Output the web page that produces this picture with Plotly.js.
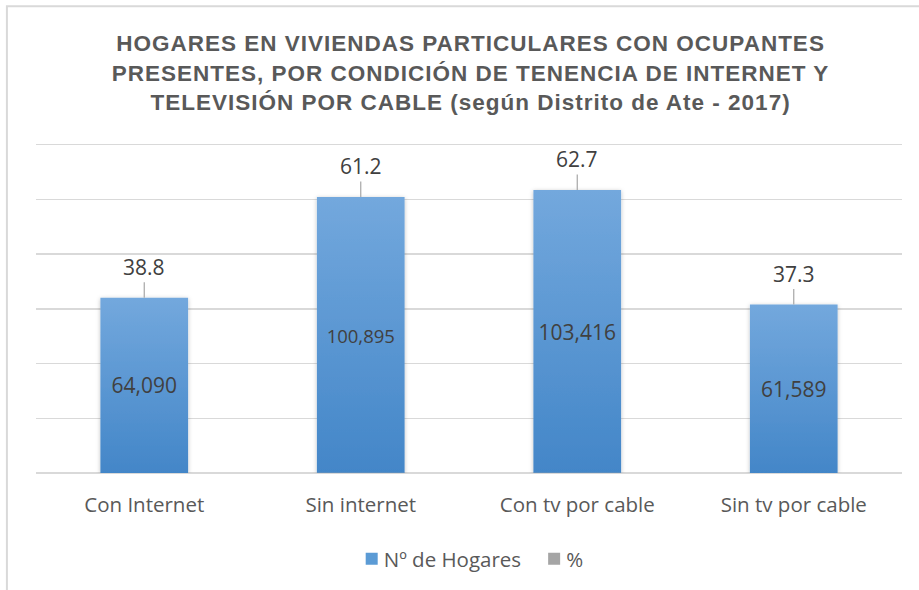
<!DOCTYPE html>
<html>
<head>
<meta charset="utf-8">
<script src="https://cdn.plot.ly/plotly-3.0.1.min.js"></script>
<style>
  html, body { margin: 0; padding: 0; background: #ffffff; }
  #chart { width: 919px; height: 590px; }
  #chart .gtitle { letter-spacing: 1px; }
</style>
</head>
<body>
<div id="chart"></div>
<script>
const categories = ["Con Internet", "Sin internet", "Con tv por cable", "Sin tv por cable"];
const hogares = [64090, 100895, 103416, 61589];
const hogaresLabels = ["64,090", "100,895", "103,416", "61,589"];
const pct = [38.8, 61.2, 62.7, 37.3];
const seriesNames = ["Nº de Hogares", "%"];
const titleText = "HOGARES EN VIVIENDAS PARTICULARES CON OCUPANTES<br>PRESENTES, POR CONDICIÓN DE TENENCIA DE INTERNET Y<br>TELEVISIÓN POR CABLE (según Distrito de Ate - 2017)";

const FONT = "'Open Sans', 'Noto Sans', sans-serif";

const traceHogares = {
  type: "bar",
  name: seriesNames[0],
  x: categories,
  y: hogares,
  text: hogaresLabels,
  textposition: "inside",
  insidetextanchor: "middle",
  textangle: 0,
  constraintext: "none",
  textfont: { family: FONT, size: [21, 18.5, 21, 21], color: "#404040" },
  marker: { color: "#5b9bd5", line: { width: 0 } },
  width: 0.405,
  hoverinfo: "skip"
};

const tracePct = {
  type: "bar",
  name: seriesNames[1],
  x: categories,
  y: pct,
  marker: { color: "#a5a5a5", line: { width: 0 } },
  width: 0.405,
  hoverinfo: "skip"
};

const annotations = categories.map((c, i) => ({
  x: c,
  y: hogares[i],
  xref: "x",
  yref: "y",
  text: pct[i].toFixed(1),
  showarrow: true,
  arrowhead: 0,
  arrowwidth: 1.2,
  arrowcolor: "#a6a6a6",
  ax: 0,
  ay: -31,
  font: { family: FONT, size: 21, color: "#404040" }
}));

const layout = {
  width: 919,
  height: 590,
  paper_bgcolor: "#ffffff",
  plot_bgcolor: "#ffffff",
  margin: { l: 36, r: 17, t: 142, b: 116 },
  barmode: "overlay",
  title: {
    text: titleText,
    font: { family: "'Liberation Sans', Arial, sans-serif", size: 22.5, color: "#595959", weight: "bold" },
    x: 0.512,
    xanchor: "center",
    y: 0.913,
    yanchor: "middle"
  },
  xaxis: {
    type: "category",
    showgrid: false,
    showline: false,
    zeroline: false,
    ticks: "",
    tickfont: { family: FONT, size: 20.5, color: "#595959" },
    ticklabelstandoff: 17
  },
  yaxis: {
    range: [0, 121000],
    tickmode: "linear",
    dtick: 20000,
    tick0: 0,
    showticklabels: false,
    showgrid: true,
    gridcolor: "#d9d9d9",
    gridwidth: 1.5,
    zeroline: true,
    zerolinecolor: "#d9d9d9",
    zerolinewidth: 1.5,
    showline: false,
    ticks: ""
  },
  showlegend: true,
  legend: {
    orientation: "h",
    x: 0.506,
    xanchor: "center",
    y: -0.256,
    yanchor: "middle",
    font: { family: FONT, size: 20.5, color: "#595959" },
    itemclick: false,
    itemdoubleclick: false
  },
  annotations: annotations,
  shapes: [{
    type: "rect",
    xref: "paper", yref: "paper",
    x0: -0.0336, x1: 1.1,
    y0: -0.5, y1: 1.41,
    line: { color: "#d9d9d9", width: 2 },
    fillcolor: "rgba(0,0,0,0)",
    layer: "below"
  }],
  hovermode: false
};

Plotly.newPlot("chart", [traceHogares, tracePct], layout, { staticPlot: true, displayModeBar: false }).then(gd => {
  const svg = gd.querySelector("svg.main-svg");
  const ns = "http://www.w3.org/2000/svg";
  let defs = svg.querySelector("defs");
  if (!defs) { defs = document.createElementNS(ns, "defs"); svg.insertBefore(defs, svg.firstChild); }
  const grad = document.createElementNS(ns, "linearGradient");
  grad.setAttribute("id", "barGrad");
  grad.setAttribute("x1", "0"); grad.setAttribute("y1", "0");
  grad.setAttribute("x2", "0"); grad.setAttribute("y2", "1");
  [["0", "#73a8dd"], ["1", "#4386c8"]].forEach(([o, c]) => {
    const s = document.createElementNS(ns, "stop");
    s.setAttribute("offset", o); s.setAttribute("stop-color", c);
    grad.appendChild(s);
  });
  defs.appendChild(grad);
  const filt = document.createElementNS(ns, "filter");
  filt.setAttribute("id", "barShadow");
  filt.setAttribute("x", "-20%"); filt.setAttribute("y", "-20%");
  filt.setAttribute("width", "140%"); filt.setAttribute("height", "140%");
  const ds = document.createElementNS(ns, "feDropShadow");
  ds.setAttribute("dx", "0"); ds.setAttribute("dy", "1");
  ds.setAttribute("stdDeviation", "2"); ds.setAttribute("flood-color", "#000");
  ds.setAttribute("flood-opacity", "0.25");
  filt.appendChild(ds);
  defs.appendChild(filt);
  const traces = gd.querySelectorAll(".barlayer .trace");
  if (traces.length) {
    traces[0].querySelectorAll(".point path").forEach(p => {
      p.style.fill = "url(#barGrad)";
      p.setAttribute("filter", "url(#barShadow)");
    });
  }
  // tighten legend symbol-to-text gap like the reference
  gd.querySelectorAll(".legend .legendtext").forEach(t => {
    t.setAttribute("x", String(parseFloat(t.getAttribute("x")) - 8));
  });
});
</script>
</body>
</html>
